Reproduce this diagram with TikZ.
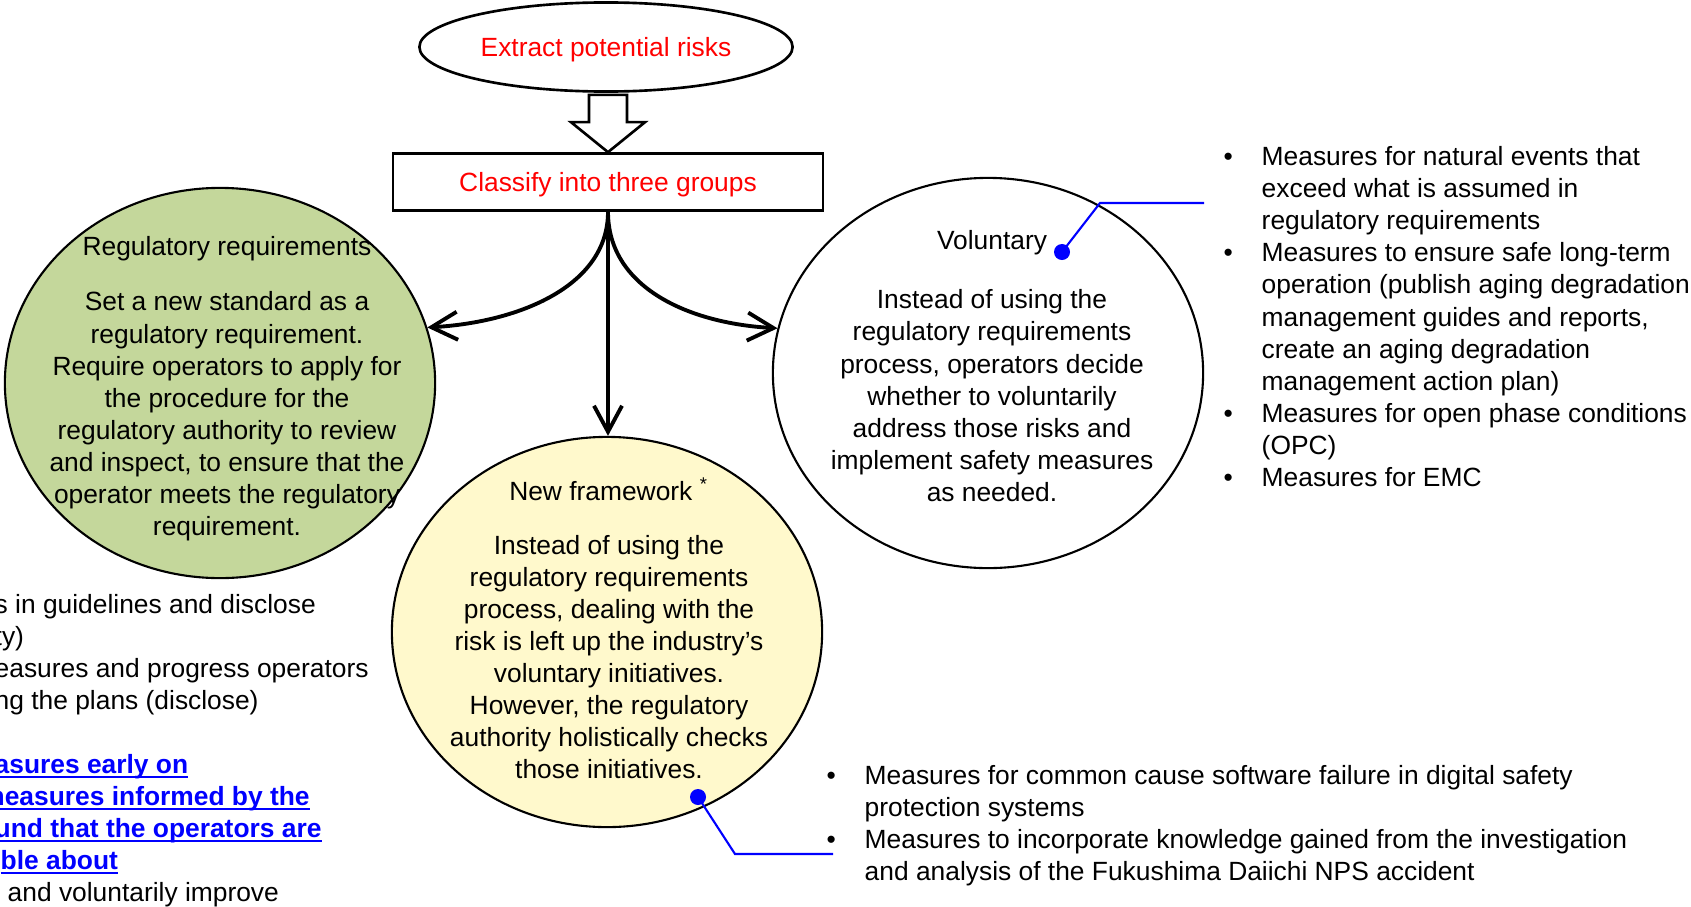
\documentclass[tikz,border=0pt]{standalone}
\usepackage{fontspec}
\setmainfont{Liberation Sans}
\usetikzlibrary{arrows.meta, shapes.geometric, calc}

\definecolor{regfill}{HTML}{C4D79B}
\definecolor{newfill}{HTML}{FFF9CC}
\definecolor{linkblue}{HTML}{0000FF}

\newcommand{\bul}{\makebox[0.38cm][l]{\textbullet}}
\newcommand{\ind}{\hspace*{0.38cm}}
\newcommand{\ulink}[1]{{\bfseries\color{linkblue}\setbox0\hbox{#1}\rlap{\rule[-1.5pt]{\wd0}{0.55pt}}\box0}}

\begin{document}
\begin{tikzpicture}[
		x=0.01cm, y=-0.01cm,
		every node/.style={font=\fontsize{7.5}{9.1}\selectfont, inner sep=0pt},
		txt/.style={align=center, anchor=base},
		lst/.style={align=left, anchor=base west},
		circ/.style={ellipse, draw, line width=0.6pt, minimum width=4.3cm, minimum height=3.9cm},
		fork/.style={-{Straight Barb[length=2.6mm, width=2.8mm]}, line width=1.1pt},
		block/.style={draw, line width=0.75pt, line join=miter},
		callout/.style={draw=linkblue, line width=0.6pt},
		pin/.style={fill=linkblue}
		]
		
		\useasboundingbox (0,0) rectangle (1691,906);
		
		% Nodes
		\node[ellipse, draw, line width=0.75pt, minimum width=3.73cm, minimum height=0.89cm, text=red, text depth=0pt] (extract) at (606,47) {Extract potential risks};
		\node[draw, line width=0.75pt, minimum width=4.3cm, minimum height=0.57cm, text=red, text depth=0pt] (classify) at (608,182) {Classify into three groups};
		
		\node[circ, fill=regfill] (reg) at (220,383) {};
		\node[circ] (vol) at (988,373) {};
		\node[circ, fill=newfill] (newfw) at (607,632) {};
		
		% texts sit on the baseline of their last line
		\node[txt] (regtxt) at (227,535) {Regulatory requirements\\[6.8pt]Set a new standard as a\\regulatory requirement.\\Require operators to apply for\\the procedure for the\\regulatory authority to review\\and inspect, to ensure that the\\operator meets the regulatory\\requirement.};
		\node[txt] (voltxt) at (992,501) {Voluntary\\[7.7pt]Instead of using the\\regulatory requirements\\process, operators decide\\whether to voluntarily\\address those risks and\\implement safety measures\\as needed.};
		\node[txt] (newtxt) at (609,778) {New framework \textsuperscript{*}\\[6pt]Instead of using the\\regulatory requirements\\process, dealing with the\\risk is left up the industry's\\voluntary initiatives.\\However, the regulatory\\authority holistically checks\\those initiatives.};
		
		% Lists
		\node[lst] (natlist) at (1223,486) {\bul Measures for natural events that\\\ind exceed what is assumed in\\\ind regulatory requirements\\\bul Measures to ensure safe long-term\\\ind operation (publish aging degradation\\\ind management guides and reports,\\\ind create an aging degradation\\\ind management action plan)\\\bul Measures for open phase conditions\\\ind (OPC)\\\bul Measures for EMC};
		\node[lst] (digilist) at (826,880) {\bul Measures for common cause software failure in digital safety\\\ind protection systems\\\bul Measures to incorporate knowledge gained from the investigation\\\ind and analysis of the Fukushima Daiichi NPS accident};
		\node[lst] (leftlist) at (-6,901) {s in guidelines and disclose\\ty)\\easures and progress operators\\ng the plans (disclose)\\[9.1pt]\ulink{asures early on}\\\hspace*{-0.06cm}\ulink{neasures informed by the}\\\ulink{und that the operators are}\\\hspace*{0.06cm}\ulink{ble about}\\\hspace*{0.13cm}and voluntarily improve};
		
		% Hollow arrow
		\draw[block] (classify.north) -- ++(37,-30) -- ++(-18,0) |- ($(extract.south)+(0,2)$) -| ($(classify.north)+(-19,-30)$) -- ++(-18,0) -- cycle;
		
		% Three groups
		\draw[fork] (classify.south) .. controls +(0,75) and +(90,-5) .. (reg.15);
		\draw[fork] (classify.south) .. controls +(0,75) and +(-90,-5) .. (vol.168);
		\draw[fork] (classify.south) -- (classify.south |- newfw.north);
		
		% Callouts
		\coordinate (volpin) at (1062,252);
		\coordinate (volknee) at (1100,203);
		\coordinate (volend) at (1204,203);
		\draw[callout] (volpin) -- (volknee) -- (volend);
		\fill[pin] (volpin) circle (0.08cm);
		
		\coordinate (newpin) at (698,797);
		\coordinate (newknee) at (735,854);
		\coordinate (newend) at (833,854);
		\draw[callout] (newpin) -- (newknee) -- (newend);
		\fill[pin] (newpin) circle (0.08cm);
		
	\end{tikzpicture}
\end{document}
